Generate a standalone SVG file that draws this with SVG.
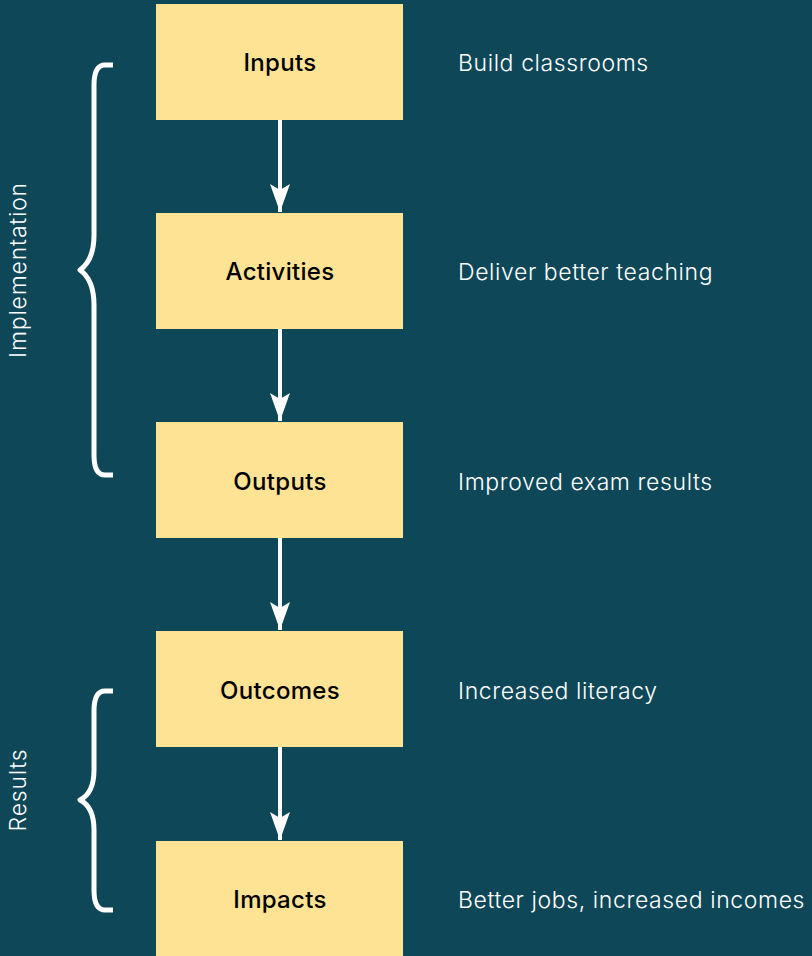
<svg xmlns="http://www.w3.org/2000/svg" width="812" height="956" viewBox="0 0 812 956">
<defs>
<style>
.box{fill:#fee394;}
.lbl{font-family:"Inter","Liberation Sans",sans-serif;font-size:24px;font-weight:500;fill:#000;text-anchor:middle;letter-spacing:0.3px;}
.desc{font-family:"Inter","Liberation Sans",sans-serif;font-size:23px;font-weight:300;fill:#fff;letter-spacing:0.6px;}
.edge{stroke:#fff;stroke-width:4;fill:none;}
.brace{stroke:#fff;stroke-width:5;fill:none;stroke-linejoin:round;}
.side{font-family:"Inter","Liberation Sans",sans-serif;font-size:23px;font-weight:300;fill:#fff;text-anchor:middle;letter-spacing:0.8px;}
</style>
<marker id="ah" markerWidth="28" markerHeight="20" refX="28" refY="10" orient="auto" markerUnits="userSpaceOnUse" viewBox="0 0 28 20">
<path d="M0,0 L6,10 L0,20 L28,10 Z" fill="#fff"/>
</marker>
</defs>
<rect width="812" height="956" fill="#0d4758"/>
<g id="connectors">
<line class="edge" x1="280" y1="120" x2="280" y2="212" marker-end="url(#ah)"/>
<line class="edge" x1="280" y1="329" x2="280" y2="421" marker-end="url(#ah)"/>
<line class="edge" x1="280" y1="538" x2="280" y2="630" marker-end="url(#ah)"/>
<line class="edge" x1="280" y1="747" x2="280" y2="840" marker-end="url(#ah)"/>
</g>
<g id="inputs"><rect class="box" x="156" y="4" width="247" height="116"/><text class="lbl" x="280" y="71">Inputs</text><text class="desc" x="458" y="71">Build classrooms</text></g>
<g id="activities"><rect class="box" x="156" y="213" width="247" height="116"/><text class="lbl" x="280" y="280">Activities</text><text class="desc" x="458" y="280">Deliver better teaching</text></g>
<g id="outputs"><rect class="box" x="156" y="422" width="247" height="116"/><text class="lbl" x="280" y="490">Outputs</text><text class="desc" x="458" y="490">Improved exam results</text></g>
<g id="outcomes"><rect class="box" x="156" y="631" width="247" height="116"/><text class="lbl" x="280" y="699">Outcomes</text><text class="desc" x="458" y="699">Increased literacy</text></g>
<g id="impacts"><rect class="box" x="156" y="841" width="247" height="120"/><text class="lbl" x="280" y="908">Impacts</text><text class="desc" x="458" y="908">Better jobs, increased incomes</text></g>
<g id="implementation">
<path class="brace" d="M113,65 L105,65 Q94,65 94,85 L94,235 Q94,260 80,270 Q94,280 94,305 L94,455 Q94,475 105,475 L113,475"/>
<text class="side" transform="translate(26,270) rotate(-90)">Implementation</text>
</g>
<g id="results">
<path class="brace" d="M113,691 L105,691 Q94,691 94,711 L94,770 Q94,793 80,800 Q94,807 94,830 L94,890 Q94,910 105,910 L113,910"/>
<text class="side" transform="translate(26,790) rotate(-90)">Results</text>
</g>
</svg>
